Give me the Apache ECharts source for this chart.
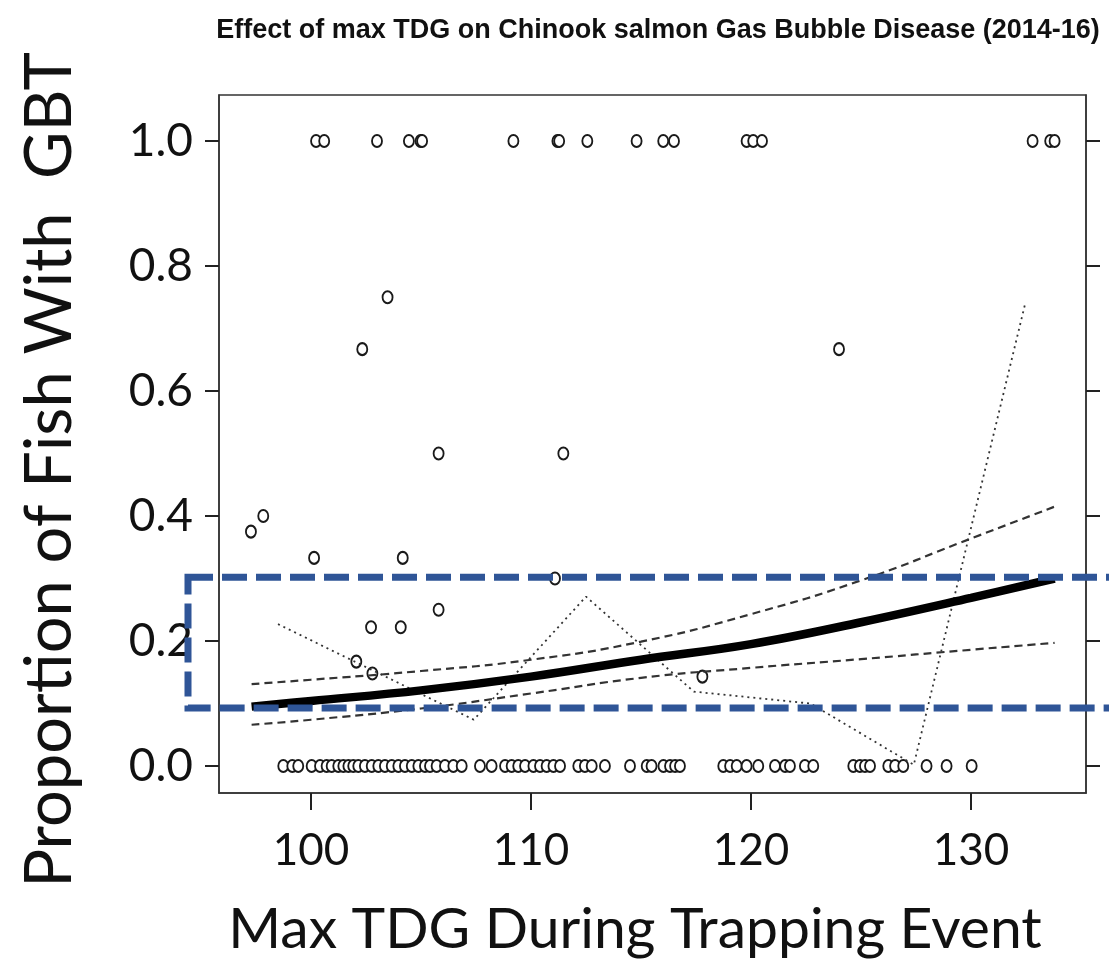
<!DOCTYPE html>
<html>
<head>
<meta charset="utf-8">
<script src="https://cdn.jsdelivr.net/npm/echarts@6/dist/echarts.min.js"></script>
<style>
html,body{margin:0;padding:0;background:#fff;}
#chart{width:1109px;height:961px;}
</style>
</head>
<body>
<div id="chart"></div>
<script>
// ---- data ----
const xTicks = [100, 110, 120, 130];
const yTicks = [0, 0.2, 0.4, 0.6, 0.8, 1.0];

// events where all fish had GBT (proportion 1.0)
const topX = [100.23, 100.6, 103.0, 104.45, 104.98, 105.05, 109.2, 111.2, 111.28, 112.56, 114.8, 116.01, 116.5, 119.8, 120.1, 120.5, 132.8, 133.6, 133.8];
const topY = [1, 1, 1, 1, 1, 1, 1, 1, 1, 1, 1, 1, 1, 1, 1, 1, 1, 1, 1];

// events with intermediate proportions
const midX = [97.27, 97.83, 100.14, 102.33, 103.48, 104.17, 105.8, 105.8, 102.73, 104.08, 102.06, 102.79, 111.47, 111.09, 117.79, 124.0];
const midY = [0.375, 0.4, 0.333, 0.667, 0.75, 0.333, 0.5, 0.25, 0.222, 0.222, 0.167, 0.148, 0.5, 0.3, 0.143, 0.667];

// events with no fish affected (proportion 0.0)
const zeroX = [98.74, 99.15, 99.42, 100.03, 100.41, 100.71, 100.94, 101.24, 101.47, 101.7, 101.92, 102.15, 102.45, 102.76,
  103.06, 103.36, 103.67, 103.97, 104.27, 104.58, 104.88, 105.18, 105.41, 105.71, 106.09, 106.47, 106.85,
  107.68, 108.21, 108.82, 109.12, 109.42, 109.73, 110.11, 110.41, 110.71, 111.02, 111.32, 112.15, 112.45, 112.76, 113.36,
  114.5, 115.26, 115.48, 116.02, 116.32, 116.55, 116.77, 118.74, 119.05, 119.35, 119.8, 120.33, 121.09, 121.55, 121.77,
  122.45, 122.83, 124.65, 124.95, 125.18, 125.41, 126.24, 126.55, 126.92, 127.98, 128.89, 130.03];

// fitted logistic curve and its confidence limits
const fitX   = [97.3, 100, 105, 110, 115, 120, 125, 130, 133.8];
const fitY   = [0.095, 0.104, 0.121, 0.143, 0.170, 0.195, 0.230, 0.269, 0.300];
const upperY = [0.131, 0.138, 0.152, 0.170, 0.199, 0.243, 0.297, 0.364, 0.415];
const lowerY = [0.066, 0.074, 0.092, 0.116, 0.141, 0.157, 0.171, 0.186, 0.197];

// dotted binned-observation line
const dotX = [98.5, 107.4, 112.5, 117.4, 122.7, 127.4, 132.45];
const dotY = [0.227, 0.074, 0.271, 0.119, 0.100, 0.002, 0.738];

// highlighted band (blue dashed box)
const bandLow = 0.093, bandHigh = 0.302;

// ---- chart ----
const zip = (xs, ys) => xs.map((x, i) => [x, ys[i]]);
const allPoints = zip(topX, topY).concat(zip(midX, midY)).concat(zeroX.map(x => [x, 0]));

const chart = echarts.init(document.getElementById('chart'));
const FONT = 'Lato';
const AX = {color: '#333', width: 1.5};
const TK = {color: '#222', width: 2};
const X_MIN = 95.818, X_MAX = 135.227;
const Y_MIN = -0.0432, Y_MAX = 1.0736;

const option = {
  animation: false,
  backgroundColor: '#fff',
  title: {
    text: 'Effect of max TDG on Chinook salmon Gas Bubble Disease (2014-16)',
    left: 653, top: 12, textAlign: 'center',
    textStyle: {fontFamily: 'Liberation Sans', fontWeight: 'bold', fontSize: 27, color: '#111'}
  },
  grid: {left: 219, right: 23, top: 95, bottom: 168, show: true, borderColor: '#333', borderWidth: 1.5, backgroundColor: 'transparent'},
  xAxis: {
    type: 'value', min: X_MIN, max: X_MAX, position: 'bottom',
    axisLine: {show: true, onZero: false, lineStyle: AX},
    splitLine: {show: false},
    axisTick: {show: true, inside: false, length: 17, lineStyle: TK, customValues: xTicks},
    axisLabel: {customValues: xTicks, margin: 36, fontFamily: FONT, fontSize: 44, color: '#111', hideOverlap: false}
  },
  yAxis: [{
    type: 'value', min: Y_MIN, max: Y_MAX,
    axisLine: {show: true, onZero: false, lineStyle: AX},
    splitLine: {show: false},
    axisTick: {show: true, length: 14, lineStyle: TK, customValues: yTicks},
    axisLabel: {customValues: yTicks, margin: 26, fontFamily: FONT, fontSize: 46, color: '#111',
      formatter: v => v.toFixed(1)}
  }, {
    type: 'value', min: Y_MIN, max: Y_MAX, position: 'right',
    axisLine: {show: true, onZero: false, lineStyle: AX},
    splitLine: {show: false},
    axisTick: {show: true, length: 14, lineStyle: TK, customValues: yTicks},
    axisLabel: {show: false}
  }],
  series: [
    {
      type: 'scatter', data: allPoints, symbol: 'emptyCircle', symbolSize: [10, 12],
      itemStyle: {color: '#1a1a1a', borderWidth: 2, opacity: 1}, z: 3
    },
    {
      type: 'line', data: zip(dotX, dotY), symbol: 'none', smooth: false,
      lineStyle: {color: '#333', width: 1.8, type: [2, 4]}, z: 4
    },
    {
      type: 'line', data: zip(fitX, upperY), symbol: 'none', smooth: true,
      lineStyle: {color: '#333', width: 2.2, type: [8, 5]}, z: 4
    },
    {
      type: 'line', data: zip(fitX, lowerY), symbol: 'none', smooth: true,
      lineStyle: {color: '#333', width: 2.2, type: [8, 5]}, z: 4
    },
    {
      type: 'line', data: zip(fitX, fitY), symbol: 'none', smooth: 0.4,
      lineStyle: {color: '#000', width: 8.5, cap: 'butt'}, z: 5
    },
    {
      // x-axis tick marks, placed through the x scale at the bottom of the plot
      type: 'custom', clip: false, silent: true, z: 10,
      data: xTicks.map(v => [v, Y_MIN]),
      encode: {x: 0, y: 1},
      renderItem: (params, api) => {
        const p = api.coord([api.value(0), api.value(1)]);
        return {
          type: 'line',
          shape: {x1: p[0], y1: p[1], x2: p[0], y2: p[1] + 17},
          style: {stroke: '#222', lineWidth: 2}
        };
      }
    }
  ]
};
chart.setOption(option);

const yTopPx = chart.convertToPixel({yAxisIndex: 0}, bandHigh);
const yBotPx = chart.convertToPixel({yAxisIndex: 0}, bandLow);
chart.setOption({
  graphic: [
    {
      type: 'rect', z: 100, silent: true,
      shape: {x: 188, y: yTopPx, width: 1000, height: yBotPx - yTopPx},
      style: {fill: 'none', stroke: '#2F5597', lineWidth: 7, lineDash: [25, 9]}
    },
    {
      type: 'text', x: 635, y: 930, z: 50,
      style: {text: 'Max TDG During Trapping Event', fontFamily: FONT, fontSize: 57, fill: '#111', textAlign: 'center', textVerticalAlign: 'middle'}
    },
    {
      type: 'text', x: 50, y: 470, rotation: Math.PI / 2, z: 50,
      style: {text: 'Proportion of Fish With  GBT', fontFamily: FONT, fontSize: 65, fill: '#111', textAlign: 'center', textVerticalAlign: 'middle'}
    }
  ]
});
</script>
</body>
</html>
